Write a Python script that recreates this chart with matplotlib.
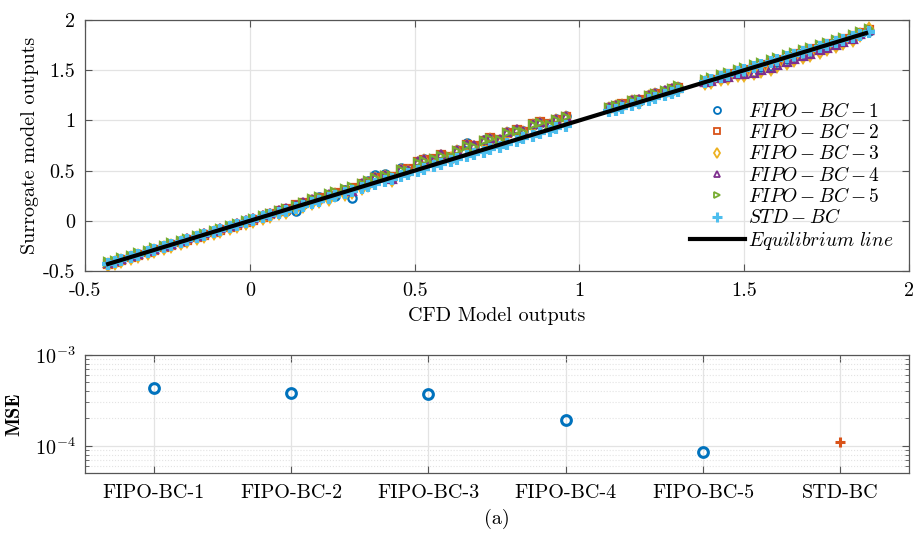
import numpy as np
import matplotlib
matplotlib.use("Agg")
from matplotlib import pyplot as plt
from matplotlib.ticker import LogLocator, NullFormatter

plt.rcParams['font.family'] = 'serif'
plt.rcParams['font.serif'] = ['cmr10']
plt.rcParams['mathtext.fontset'] = 'cm'
plt.rcParams['axes.unicode_minus'] = False
plt.rcParams['axes.formatter.use_mathtext'] = True

## CFD model outputs (shared x for every surrogate)
cfd_out = [-0.43, -0.41, -0.39, -0.36, -0.34, -0.31, -0.29, -0.26, -0.24, -0.21,
           -0.19, -0.16, -0.14, -0.11, -0.09, -0.06, -0.04, -0.01, 0.01, 0.04,
           0.06, 0.09, 0.11, 0.14, 0.16, 0.19, 0.21, 0.24, 0.26, 0.29,
           0.31, 0.34, 0.36, 0.38, 0.41, 0.43, 0.46, 0.48, 0.51, 0.53,
           0.56, 0.58, 0.61, 0.63, 0.66, 0.68, 0.71, 0.73, 0.76, 0.78,
           0.81, 0.83, 0.86, 0.88, 0.91, 0.93, 0.96,
           1.09, 1.11, 1.13, 1.16, 1.18, 1.21, 1.23, 1.26, 1.28, 1.30,
           1.38, 1.40, 1.43, 1.45, 1.48, 1.50, 1.53, 1.55, 1.58, 1.60,
           1.63, 1.65, 1.68, 1.70, 1.73, 1.75, 1.78, 1.80, 1.83, 1.85, 1.88]

## surrogate outputs
fipo_bc_1 = [-0.42, -0.40, -0.38, -0.35, -0.33, -0.30, -0.28, -0.25, -0.23, -0.20,
             -0.18, -0.15, -0.13, -0.10, -0.08, -0.05, -0.03, 0.00, 0.02, 0.05,
             0.07, 0.10, 0.10, 0.10, 0.17, 0.21, 0.24, 0.26, 0.25, 0.31,
             0.23, 0.36, 0.40, 0.46, 0.47, 0.44, 0.53, 0.50, 0.58, 0.62,
             0.60, 0.65, 0.63, 0.71, 0.78, 0.74, 0.80, 0.81, 0.79, 0.88,
             0.90, 0.89, 0.95, 0.97, 0.95, 1.01, 1.04,
             1.13, 1.15, 1.16, 1.20, 1.19, 1.25, 1.27, 1.29, 1.30, 1.33,
             1.39, 1.41, 1.43, 1.45, 1.48, 1.49, 1.48, 1.53, 1.54, 1.58,
             1.61, 1.64, 1.67, 1.69, 1.72, 1.74, 1.77, 1.80, 1.83, 1.86, 1.89]
fipo_bc_2 = [-0.43, -0.41, -0.39, -0.36, -0.34, -0.31, -0.29, -0.26, -0.24, -0.21,
             -0.19, -0.16, -0.14, -0.11, -0.09, -0.06, -0.04, -0.01, 0.01, 0.04,
             0.07, 0.10, 0.12, 0.16, 0.18, 0.21, 0.23, 0.25, 0.28, 0.30,
             0.33, 0.37, 0.39, 0.43, 0.45, 0.44, 0.51, 0.52, 0.59, 0.61,
             0.62, 0.66, 0.64, 0.70, 0.76, 0.75, 0.79, 0.82, 0.80, 0.87,
             0.90, 0.88, 0.96, 0.98, 0.96, 1.00, 1.03,
             1.12, 1.14, 1.16, 1.19, 1.20, 1.24, 1.26, 1.28, 1.31, 1.32,
             1.38, 1.40, 1.44, 1.46, 1.49, 1.50, 1.52, 1.55, 1.57, 1.60,
             1.63, 1.66, 1.69, 1.71, 1.74, 1.76, 1.79, 1.81, 1.84, 1.87, 1.90]
fipo_bc_3 = [-0.44, -0.42, -0.40, -0.37, -0.35, -0.32, -0.30, -0.27, -0.25, -0.22,
             -0.20, -0.17, -0.15, -0.12, -0.10, -0.07, -0.05, -0.02, 0.00, 0.03,
             0.05, 0.08, 0.09, 0.13, 0.15, 0.18, 0.20, 0.22, 0.26, 0.27,
             0.29, 0.33, 0.36, 0.42, 0.44, 0.41, 0.50, 0.49, 0.57, 0.60,
             0.58, 0.64, 0.62, 0.69, 0.75, 0.73, 0.78, 0.80, 0.78, 0.86,
             0.88, 0.87, 0.94, 0.96, 0.94, 0.99, 1.02,
             1.11, 1.13, 1.14, 1.18, 1.18, 1.23, 1.25, 1.27, 1.29, 1.31,
             1.37, 1.38, 1.41, 1.42, 1.45, 1.45, 1.47, 1.49, 1.51, 1.54,
             1.57, 1.60, 1.63, 1.65, 1.68, 1.71, 1.74, 1.77, 1.80, 1.85, 1.91]
fipo_bc_4 = [-0.42, -0.40, -0.38, -0.35, -0.33, -0.30, -0.28, -0.25, -0.23, -0.20,
             -0.17, -0.15, -0.12, -0.10, -0.07, -0.05, -0.02, 0.01, 0.03, 0.06,
             0.08, 0.11, 0.13, 0.16, 0.19, 0.22, 0.23, 0.27, 0.28, 0.31,
             0.30, 0.38, 0.39, 0.44, 0.46, 0.42, 0.52, 0.51, 0.60, 0.62,
             0.61, 0.67, 0.63, 0.71, 0.77, 0.76, 0.80, 0.82, 0.81, 0.88,
             0.91, 0.89, 0.96, 0.98, 0.96, 1.01, 1.04,
             1.13, 1.15, 1.16, 1.20, 1.21, 1.25, 1.27, 1.30, 1.32, 1.33,
             1.38, 1.39, 1.42, 1.43, 1.46, 1.46, 1.47, 1.50, 1.52, 1.55,
             1.58, 1.61, 1.64, 1.66, 1.70, 1.72, 1.75, 1.78, 1.81, 1.86, 1.90]
fipo_bc_5 = [-0.41, -0.40, -0.37, -0.35, -0.32, -0.30, -0.27, -0.25, -0.22, -0.20,
             -0.18, -0.15, -0.13, -0.10, -0.08, -0.05, -0.03, 0.00, 0.02, 0.05,
             0.07, 0.10, 0.12, 0.15, 0.18, 0.22, 0.24, 0.27, 0.29, 0.32,
             0.34, 0.37, 0.40, 0.43, 0.45, 0.45, 0.51, 0.50, 0.58, 0.60,
             0.62, 0.65, 0.64, 0.70, 0.75, 0.74, 0.79, 0.81, 0.80, 0.87,
             0.89, 0.88, 0.95, 0.97, 0.95, 1.00, 1.03,
             1.12, 1.14, 1.15, 1.19, 1.20, 1.24, 1.26, 1.29, 1.31, 1.34,
             1.40, 1.42, 1.45, 1.47, 1.50, 1.52, 1.55, 1.57, 1.60, 1.62,
             1.65, 1.67, 1.70, 1.72, 1.75, 1.77, 1.80, 1.82, 1.85, 1.88, 1.91]
std_bc = [-0.43, -0.41, -0.39, -0.36, -0.34, -0.31, -0.29, -0.26, -0.24, -0.21,
          -0.19, -0.16, -0.14, -0.11, -0.09, -0.06, -0.04, -0.01, 0.01, 0.04,
          0.06, 0.08, 0.10, 0.13, 0.15, 0.18, 0.20, 0.23, 0.25, 0.28,
          0.30, 0.33, 0.35, 0.37, 0.40, 0.42, 0.45, 0.47, 0.50, 0.52,
          0.55, 0.57, 0.60, 0.62, 0.65, 0.67, 0.69, 0.72, 0.74, 0.77,
          0.79, 0.82, 0.84, 0.87, 0.89, 0.92, 0.94,
          1.09, 1.10, 1.12, 1.15, 1.17, 1.20, 1.22, 1.25, 1.27, 1.29,
          1.38, 1.40, 1.43, 1.45, 1.48, 1.50, 1.53, 1.55, 1.58, 1.60,
          1.63, 1.65, 1.68, 1.70, 1.73, 1.75, 1.78, 1.80, 1.83, 1.85, 1.88]

eq_x = [-0.43, 1.87]

series_names = [r'$FIPO-BC-1$', r'$FIPO-BC-2$', r'$FIPO-BC-3$',
                r'$FIPO-BC-4$', r'$FIPO-BC-5$', r'$STD-BC$']

## MSE per model
models = ['FIPO-BC-1', 'FIPO-BC-2', 'FIPO-BC-3', 'FIPO-BC-4', 'FIPO-BC-5', 'STD-BC']
mse_fipo = [4.3e-4, 3.8e-4, 3.75e-4, 1.9e-4, 8.5e-5]
mse_std = [1.1e-4]

colors = ['#0072BD', '#D95319', '#EDB120', '#7E2F8E', '#77AC30', '#4DBEEE']
markers = ['o', 's', 'd', '^', '>', '+']
grid_c = '#e3e3e3'
edge_c = '#555555'
fs = 14.5

fig = plt.figure(figsize=(9.15, 5.34), dpi=100)
ax1 = fig.add_axes([0.0929, 0.4925, 0.9005, 0.4700])
ax2 = fig.add_axes([0.0929, 0.1142, 0.9005, 0.2210])

## top: parity plot
for ys, c, m, lab in zip([fipo_bc_1, fipo_bc_2, fipo_bc_3, fipo_bc_4, fipo_bc_5, std_bc],
                         colors, markers, series_names):
    if m == '+':
        ax1.plot(cfd_out, ys, ls='none', marker=m, ms=9, mew=3, color=c, label=lab)
    else:
        ax1.plot(cfd_out, ys, ls='none', marker=m, ms=6, mew=1.6, mfc='none', color=c, label=lab)
ax1.plot(eq_x, eq_x, color='k', lw=3, label=r'$Equilibrium\ line$')

ax1.set_xlim(-0.5, 2)
ax1.set_ylim(-0.5, 2)
ticks = [-0.5, 0, 0.5, 1, 1.5, 2]
ax1.set_xticks(ticks)
ax1.set_yticks(ticks)
ax1.set_xticklabels(['-0.5', '0', '0.5', '1', '1.5', '2'])
ax1.set_yticklabels(['-0.5', '0', '0.5', '1', '1.5', '2'])
ax1.set_xlabel('CFD Model outputs', fontsize=fs, labelpad=5)
ax1.set_ylabel('Surrogate model outputs', fontsize=fs, labelpad=3)
ax1.grid(True, color=grid_c, lw=0.9)
ax1.set_axisbelow(True)
leg = ax1.legend(loc='lower right', bbox_to_anchor=(0.995, 0.03), frameon=False,
                 fontsize=14, handlelength=2.8, handletextpad=0.15, labelspacing=0.12,
                 borderaxespad=0.2)
for h in leg.legend_handles[:5]:
    h.set_markersize(5)
    h.set_markeredgewidth(1.3)
leg.legend_handles[5].set_markersize(7)
leg.legend_handles[5].set_markeredgewidth(2.2)

## bottom: MSE
ax2.semilogy(range(1, 6), mse_fipo, ls='none', marker='o', ms=7, mew=2.2,
             mfc='none', color=colors[0])
ax2.semilogy([6], mse_std, ls='none', marker='+', ms=7, mew=2.2, color=colors[1])
ax2.set_xlim(0.5, 6.5)
ax2.set_ylim(5e-5, 1e-3)
ax2.set_xticks(range(1, 7))
ax2.set_xticklabels(models)
ax2.yaxis.set_major_locator(LogLocator(base=10, numticks=10))
ax2.yaxis.set_minor_locator(LogLocator(base=10, subs=np.arange(2, 10), numticks=10))
ax2.yaxis.set_minor_formatter(NullFormatter())
ax2.grid(True, which='major', color=grid_c, lw=0.9)
ax2.grid(True, which='minor', axis='y', color=grid_c, lw=0.8, ls=':')
ax2.set_axisbelow(True)
ax2.set_ylabel('MSE', fontsize=fs, fontfamily='cmb10', labelpad=8)
ax2.set_xlabel('(a)', fontsize=fs, labelpad=5)

for ax in (ax1, ax2):
    ax.tick_params(which='both', direction='in', top=True, right=True,
                   labelsize=fs, color=edge_c, length=5)
    ax.tick_params(which='minor', length=3)
    ax.tick_params(axis='x', pad=8)
    ax.tick_params(axis='y', pad=7)
    for s in ax.spines.values():
        s.set_color(edge_c)
        s.set_linewidth(0.9)

fig.savefig('out.png', dpi=100)
